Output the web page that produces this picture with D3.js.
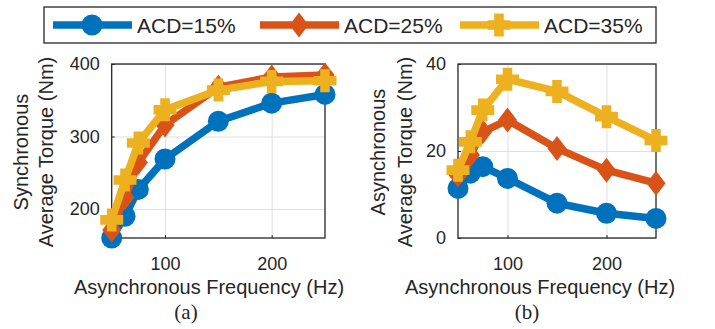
<!DOCTYPE html>
<html>
<head>
<meta charset="utf-8">
<script src="https://cdn.jsdelivr.net/npm/d3@7"></script>
<style>
body { margin: 0; background: #fff; }
svg { display: block; }
text { font-family: "Liberation Sans", Arial, Helvetica, sans-serif; fill: #262626; }
</style>
</head>
<body>
<div id="chart"></div>
<script>
// asynchronous frequency (Hz), shared by both panels
var freq = [50, 62.5, 75, 100, 150, 200, 250];

var seriesNames = ["ACD=15%", "ACD=25%", "ACD=35%"];
var seriesColors = ["#0072BD", "#D95319", "#EDB120"];
var seriesMarkers = ["circle", "diamond", "plus"];

// (a) synchronous average torque (Nm)
var syncTorque15 = [160, 190, 227, 269, 321, 346, 358];
var syncTorque25 = [171, 216, 264, 316, 368, 382, 385];
var syncTorque35 = [185, 240, 291, 337, 364, 376, 377];

// (b) asynchronous average torque (Nm)
var asyncTorque15 = [11.4, 14.9, 16.4, 13.7, 8.0, 5.7, 4.5];
var asyncTorque25 = [14.5, 19.1, 24.4, 27.1, 20.6, 15.6, 12.6];
var asyncTorque35 = [15.6, 22.1, 29.4, 36.5, 33.7, 27.9, 22.4];

var xTicks = [100, 200];
var syncTicks = [200, 300, 400];
var asyncTicks = [0, 20, 40];

var width = 715, height = 329;
var axisColor = "#262626", gridColor = "#dfdfdf";

var svg = d3.select("#chart").append("svg")
    .attr("width", width)
    .attr("height", height);

// marker shapes centred on 0,0
function markerPath(type) {
    if (type == "circle") {
        return d3.symbol().type(d3.symbolCircle).size(Math.PI * 10.5 * 10.5)();
    }
    if (type == "diamond") {
        return "M0,-12.5L9.5,0L0,12.5L-9.5,0Z";
    }
    // thick plus
    var a = 11.5, t = 4.8;
    return "M" + (-t) + "," + (-a) + "H" + t + "V" + (-t) + "H" + a + "V" + t + "H" + t +
        "V" + a + "H" + (-t) + "V" + t + "H" + (-a) + "V" + (-t) + "H" + (-t) + "Z";
}

var panels = [
    {
        left: 111.7, right: 325, top: 64, bottom: 238,
        yDomain: [160, 400], yTicks: syncTicks,
        series: [syncTorque15, syncTorque25, syncTorque35],
        yLabel: ["Synchronous", "Average Torque (Nm)"], yLabelX: [28, 53],
        xLabelX: 209, caption: "(a)", captionX: 186
    },
    {
        left: 458, right: 656, top: 64, bottom: 238,
        yDomain: [0, 40], yTicks: asyncTicks,
        series: [asyncTorque15, asyncTorque25, asyncTorque35],
        yLabel: ["Asynchronous", "Average Torque (Nm)"], yLabelX: [385, 412],
        xLabelX: 540, caption: "(b)", captionX: 527
    }
];

panels.forEach(function(p) {
    var x = d3.scaleLinear().domain([50, 250]).range([p.left, p.right]);
    var y = d3.scaleLinear().domain(p.yDomain).range([p.bottom, p.top]);
    var g = svg.append("g");

    // grid
    g.append("g")
        .attr("transform", "translate(0," + p.bottom + ")")
        .call(d3.axisBottom(x).tickValues(xTicks).tickSize(-(p.bottom - p.top)).tickFormat(""))
        .call(function(s) {
            s.select(".domain").remove();
            s.selectAll("line").attr("stroke", gridColor).attr("stroke-width", 1);
        });
    g.append("g")
        .attr("transform", "translate(" + p.left + ",0)")
        .call(d3.axisLeft(y).tickValues(p.yTicks).tickSize(-(p.right - p.left)).tickFormat(""))
        .call(function(s) {
            s.select(".domain").remove();
            s.selectAll("line").attr("stroke", gridColor).attr("stroke-width", 1);
        });

    // box
    g.append("rect")
        .attr("x", p.left).attr("y", p.top)
        .attr("width", p.right - p.left).attr("height", p.bottom - p.top)
        .attr("fill", "none").attr("stroke", axisColor).attr("stroke-width", 1.3);

    // axes with inward ticks
    g.append("g")
        .attr("transform", "translate(0," + p.bottom + ")")
        .call(d3.axisBottom(x).tickValues(xTicks).tickSizeInner(-3).tickSizeOuter(0).tickPadding(19))
        .call(function(s) {
            s.select(".domain").remove();
            s.selectAll("line").attr("stroke", axisColor);
            s.selectAll("text").attr("font-size", 18).attr("fill", axisColor)
                .style("font-family", '"Liberation Sans", Arial, sans-serif');
        });
    g.append("g")
        .attr("transform", "translate(" + p.left + ",0)")
        .call(d3.axisLeft(y).tickValues(p.yTicks).tickSizeInner(-3).tickSizeOuter(0).tickPadding(12))
        .call(function(s) {
            s.select(".domain").remove();
            s.selectAll("line").attr("stroke", axisColor);
            s.selectAll("text").attr("font-size", 18).attr("fill", axisColor)
                .style("font-family", '"Liberation Sans", Arial, sans-serif');
        });

    // series
    var line = d3.line()
        .x(function(d, i) { return x(freq[i]); })
        .y(function(d) { return y(d); });

    p.series.forEach(function(values, k) {
        g.append("path")
            .datum(values)
            .attr("d", line)
            .attr("fill", "none")
            .attr("stroke", seriesColors[k])
            .attr("stroke-width", 7.5)
            .attr("stroke-linejoin", "round");
        g.selectAll(".m" + k)
            .data(values)
            .enter()
            .append("path")
            .attr("class", "m" + k)
            .attr("transform", function(d, i) { return "translate(" + x(freq[i]) + "," + y(d) + ")"; })
            .attr("d", markerPath(seriesMarkers[k]))
            .attr("fill", seriesColors[k]);
    });

    // labels
    p.yLabel.forEach(function(txt, i) {
        g.append("text")
            .attr("transform", "translate(" + p.yLabelX[i] + "," + ((p.top + p.bottom) / 2 + 1) + ") rotate(-90)")
            .attr("text-anchor", "middle")
            .attr("font-size", 20)
            .text(txt);
    });
    g.append("text")
        .attr("x", p.xLabelX).attr("y", 294)
        .attr("text-anchor", "middle")
        .attr("font-size", 20)
        .text("Asynchronous Frequency (Hz)");
    g.append("text")
        .attr("x", p.captionX).attr("y", 319)
        .attr("text-anchor", "middle")
        .attr("font-size", 21)
        .style("font-family", '"Liberation Serif", "Times New Roman", serif')
        .attr("fill", "#000")
        .text(p.caption);
});

// legend
var legend = svg.append("g");
legend.append("rect")
    .attr("x", 44).attr("y", 7)
    .attr("width", 612).attr("height", 36)
    .attr("fill", "#fff").attr("stroke", axisColor).attr("stroke-width", 1.3);

var legendStart = [53, 260, 460];
seriesNames.forEach(function(name, k) {
    var lx = legendStart[k];
    legend.append("line")
        .attr("x1", lx).attr("x2", lx + 79)
        .attr("y1", 25).attr("y2", 25)
        .attr("stroke", seriesColors[k]).attr("stroke-width", 7.5);
    legend.append("path")
        .attr("transform", "translate(" + (lx + 39) + ",25)")
        .attr("d", markerPath(seriesMarkers[k]))
        .attr("fill", seriesColors[k]);
    legend.append("text")
        .attr("x", lx + 84).attr("y", 33)
        .attr("font-size", 21)
        .attr("fill", "#000")
        .text(name);
});
</script>
</body>
</html>
